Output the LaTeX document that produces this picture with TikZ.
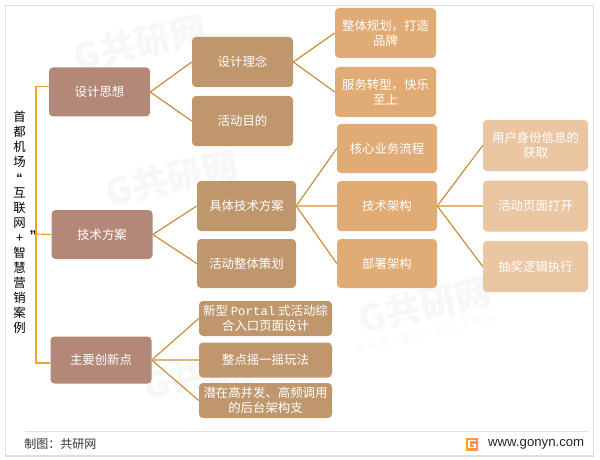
\documentclass[tikz,border=0pt]{standalone}
\usepackage{fontspec}
\setmainfont{Noto Sans CJK SC}
\newfontfamily\latinmono{Liberation Mono}
\newfontfamily\latinsans{Liberation Sans}
\begin{document}
\begin{tikzpicture}[x=0.75pt,y=-0.75pt,
  bx/.style={draw=none,rounded corners=3pt,inner sep=0pt,text=white,align=center,font=\fontsize{9.3pt}{11pt}\selectfont},
  sz/.style 2 args={minimum width=#1*0.75pt,minimum height=#2*0.75pt},
  lvla/.style={bx,fill=cA,sz={101}{49}},
  lvlb/.style={bx,fill=cB,sz={100}{50}},
  lvlc/.style={bx,fill=cC,sz={101}{50}},
  lvld/.style={bx,fill=cD,sz={105}{51}},
  lvle/.style={bx,fill=cB,sz={133}{35}},
  link/.style={draw=cL,line width=0.85pt},
  linksoft/.style={draw=cS,line width=1.5pt},
  bracket/.style={draw=cO,line width=0.85pt},
  wm/.style={text=cW,font=\bfseries\fontsize{27pt}{27pt}\selectfont,rotate=13,inner sep=0pt},
  wmsub/.style={text=cW,font=\latinsans\fontsize{10pt}{10pt}\selectfont,rotate=13,inner sep=0pt},
  ]
\definecolor{cA}{HTML}{B38879}
\definecolor{cB}{HTML}{C0976D}
\definecolor{cC}{HTML}{E1AB75}
\definecolor{cD}{HTML}{EBC6A3}
\definecolor{cL}{HTML}{C8892F}
\definecolor{cS}{HTML}{DDB67D}
\definecolor{cO}{HTML}{F0A030}
\definecolor{cW}{HTML}{F7F7F7}
\definecolor{cF}{HTML}{DEDEDE}
\useasboundingbox (0,0) rectangle (600,460);
\fill[white] (0,0) rectangle (600,460);
\draw[cF,line width=1pt] (5.5,5.5) rectangle (593.5,456);
% watermarks
\node[wm] (w1) at (140,43) {G共研网};
\node[wm] (w2) at (172,178) {G共研网};
\node[wm] (w4) at (425,305) {G共研网};
\node[wmsub] (w4s) at (425,335) {w w w . g o n y n . c o m};
\node[wm] (w7) at (210,372) {G共研网};
% nodes
\node[lvla] (sj) at (99.5,92) {设计思想};
\node[lvla] (js) at (102,234.5) {技术方案};
\node[lvla,minimum height=47*0.75pt] (cx) at (101,360) {主要创新点};
\node[lvlb,minimum width=101*0.75pt] (ln) at (242.5,62) {设计理念};
\node[lvlb,minimum width=101*0.75pt] (md) at (242.5,121) {活动目的};
\node[lvlb,minimum width=99*0.75pt] (jt) at (246.5,206) {具体技术方案};
\node[lvlb,minimum width=99*0.75pt,minimum height=49*0.75pt] (ch) at (246.5,263.5) {活动整体策划};
\node[lvlc] (gh) at (385.5,33) {整体规划，打造\\品牌};
\node[lvlc] (fw) at (385.5,92) {服务转型，快乐\\至上};
\node[lvlc,minimum width=100*0.75pt,minimum height=49*0.75pt] (hx) at (387,148.5) {核心业务流程};
\node[lvlc,minimum width=100*0.75pt] (jg) at (387,206) {技术架构};
\node[lvlc,minimum width=100*0.75pt,minimum height=49*0.75pt] (bs) at (387,263.5) {部署架构};
\node[lvld] (yh) at (535.5,145.5) {用户身份信息的\\获取};
\node[lvld] (ym) at (535.5,206) {活动页面打开};
\node[lvld] (cj) at (535.5,266.5) {抽奖逻辑执行};
\node[lvle] (pt) at (265.5,318.5) {新型 {\latinmono Portal} 式活动综\\合入口页面设计};
\node[lvle] (zd) at (265.5,360) {整点摇一摇玩法};
\node[lvle] (qz) at (265.5,400.5) {潜在高并发、高频调用\\的后台架构支};
% title
\node[inner sep=0pt,align=center,font=\fontsize{9.3pt}{11.3pt}\selectfont] (tt) at (19.5,222.5) {首\\都\\机\\场\\{\latinsans\bfseries “}\\互\\联\\网\\+\\智\\慧\\营\\销\\案\\例};
\node[inner sep=0pt,font=\latinsans\bfseries\fontsize{10.5pt}{11pt}\selectfont] (tq) at (33,236) {”};
% bracket
\draw[bracket] (sj.west |- 0,86.5) -| (36,363) -- (cx.west |- 0,363);
\draw[bracket] (36,234) -- (js.west);
% connectors
\draw[link] (sj.east) -- (ln.west);
\draw[link] (sj.east) -- (md.west);
\draw[link] (ln.east) -- (gh.west);
\draw[link] (ln.east) -- (fw.west);
\draw[link] (js.east) -- (jt.west);
\draw[link] (js.east) -- (ch.west);
\draw[link] (jt.east) -- (hx.west);
\draw[linksoft] (jt.east) -- (jg.west);
\draw[link] (jt.east) -- (bs.west);
\draw[link] (jg.east) -- (yh.west);
\draw[linksoft] (jg.east) -- (ym.west);
\draw[link] (jg.east) -- (cj.west);
\draw[link] (cx.east) -- (pt.west);
\draw[linksoft] (cx.east) -- (zd.west);
\draw[link] (cx.east) -- (qz.west);
% footer
\draw[cF,line width=0.8pt] (25,431.5) -- (588,431.5);
\node[anchor=west,inner sep=0pt,text=black!80,font=\fontsize{9pt}{11pt}\selectfont] (src) at (24,443.5) {制图：共研网};
\node[anchor=east,inner sep=0pt,text=black!85,font=\latinsans\fontsize{9.9pt}{11pt}\selectfont] (url) at (584.5,444) {www.gonyn.com};
\shade[left color=orange!70!yellow,right color=red!45!white!90!orange] (466,438) rectangle (478,450);
\draw[white,line width=0.9pt] (476,440.5) -- (469,440.5) -- (469,447.5) -- (475,447.5) -- (475,444.5) -- (472,444.5);
\end{tikzpicture}
\end{document}
